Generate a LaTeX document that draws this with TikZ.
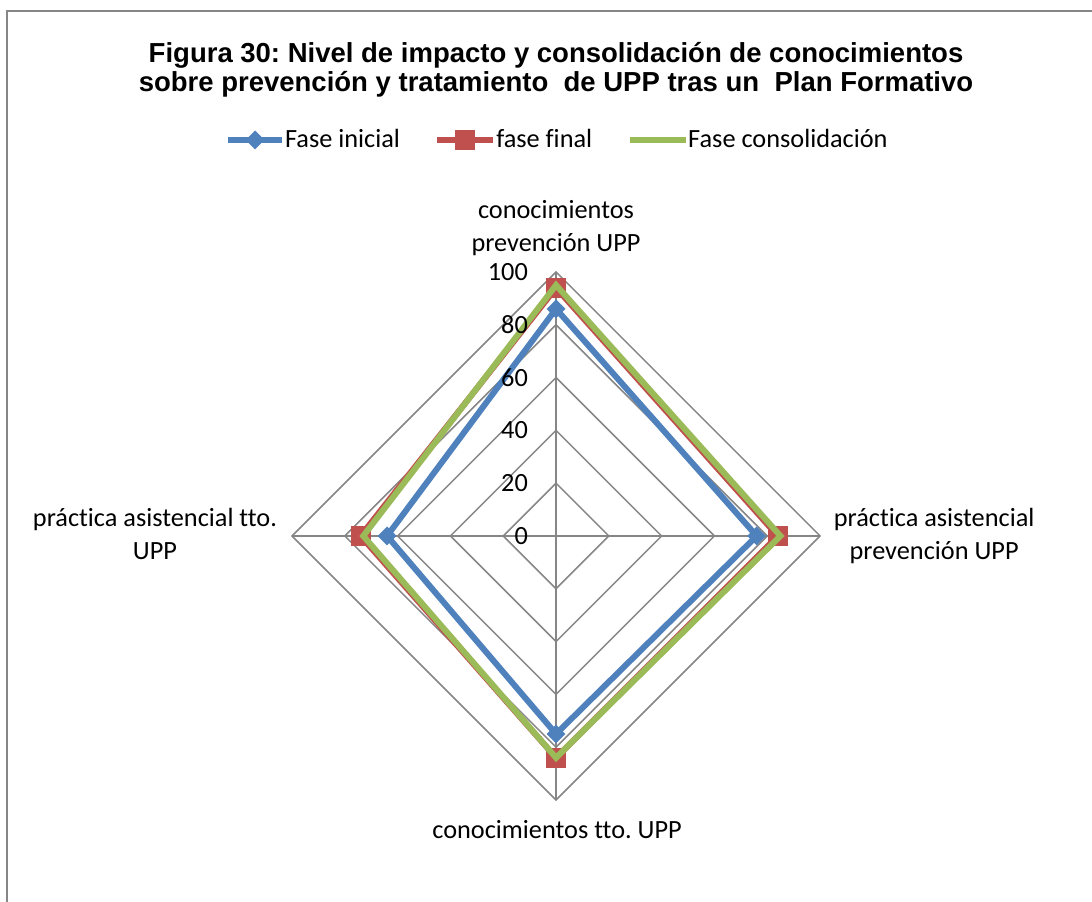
\documentclass[tikz,border=0pt]{standalone}
\usepackage{fontspec}
\setmainfont{Carlito}[Ligatures=NoCommon]
\newfontfamily\titfont{Liberation Sans}
\usetikzlibrary{shapes.geometric}
\definecolor{azul}{HTML}{4F81BD}
\definecolor{rojo}{HTML}{C0504D}
\definecolor{verde}{HTML}{9BBB59}
\definecolor{rejilla}{HTML}{868686}
\frenchspacing

\begin{document}
\begin{tikzpicture}[x=2.64pt, y=2.64pt,
        every node/.style={inner sep=0pt, font=\fontsize{26.3}{33}\selectfont},
        rejilla/.style={draw=rejilla, line width=1.5pt},
        serie/.style={line width=6pt},
        titulo/.style={anchor=base, font=\titfont\bfseries\fontsize{27.5}{29}\selectfont},
        rombo/.style={diamond, fill=azul, minimum size=19pt},
        cuadro/.style={rectangle, fill=rojo, minimum size=20pt}]
        % the whole chart area
        \useasboundingbox (-210.6,-138.6) rectangle (203,203);
        % border of the chart area (left and top side)
        \draw[rejilla] (-207.95,-138.6) -- (-207.95,198.86) -- (203,198.86);

        % The title in two lines
        \node[titulo] (tit1) at (0,179.5) {Figura 30: Nivel de impacto y consolidación de conocimientos};
        \node[titulo] (tit2) at (0,168.5) {sobre prevención y tratamiento~~de UPP tras un~~Plan Formativo};

        % the legend
        \coordinate (ley1a) at (-124.2,150);
        \coordinate (ley1b) at (-103.8,150);
        \draw[serie, azul] (ley1a) -- (ley1b);
        \node[rombo] (leym1) at (-114,150) {};
        \node[anchor=base west] (leyt1) at (-102.7,147.3) {Fase inicial};
        \coordinate (ley2a) at (-45.1,150);
        \coordinate (ley2b) at (-23.9,150);
        \draw[serie, rojo] (ley2a) -- (ley2b);
        \node[cuadro] (leym2) at (-34.5,150) {};
        \node[anchor=base west] (leyt2) at (-22.7,147.3) {fase final};
        \coordinate (ley3a) at (28,150);
        \coordinate (ley3b) at (49.2,150);
        \draw[serie, verde] (ley3a) -- (ley3b);
        \node[anchor=base west] (leyt3) at (50,147.3) {Fase consolidación};

        % the four axes of the radar
        \coordinate (o) at (0,0);
        \foreach \ang/\nom in {90/ejea, 0/ejeb, 270/ejec, 180/ejed}
            \coordinate (\nom) at (\ang:100);
        % the diamonds of the grid
        \foreach \r in {20,40,...,100}
            \draw[rejilla] (90:\r) -- (0:\r) -- (270:\r) -- (180:\r) -- cycle;
        % the spokes
        \foreach \nom in {ejea,ejeb,ejec,ejed}
            \draw[rejilla] (o) -- (\nom);

        % The labels of the axes (base = last line)
        \node[anchor=base, align=center] (etqa) at (0,107.9) {conocimientos\\prevención UPP};
        \node[anchor=base, align=center] (etqb) at (143.2,-9.1) {práctica asistencial\\prevención UPP};
        \node[anchor=base] (etqc) at (0.4,-114.4) {conocimientos tto. UPP};
        \node[anchor=base, align=center] (etqd) at (-151.9,-9.1) {práctica asistencial tto.\\UPP};

        % Fase inicial
        \foreach \ang/\v in {90/86, 0/76, 270/75, 180/64}
            \coordinate (ini\ang) at (\ang:\v);
        \draw[serie, azul] (ini90) -- (ini0) -- (ini270) -- (ini180) -- cycle;
        \foreach \ang in {90,0,270,180}
            \node[rombo] (mini\ang) at (ini\ang) {};

        % fase final
        \foreach \ang/\v in {90/94, 0/84, 270/84, 180/74}
            \coordinate (fin\ang) at (\ang:\v);
        \draw[serie, rojo] (fin90) -- (fin0) -- (fin270) -- (fin180) -- cycle;
        \foreach \ang in {90,0,270,180}
            \node[cuadro] (mfin\ang) at (fin\ang) {};

        % Fase consolidación
        \foreach \ang/\v in {90/95, 0/85, 270/84, 180/73}
            \coordinate (con\ang) at (\ang:\v);
        \draw[serie, verde] (con90) -- (con0) -- (con270) -- (con180) -- cycle;

        % the values on the vertical axis
        \foreach \r in {0,20,...,100}
            \node[anchor=east] (val\r) at (-10.6,\r) {\r};
    \end{tikzpicture}
\end{document}
